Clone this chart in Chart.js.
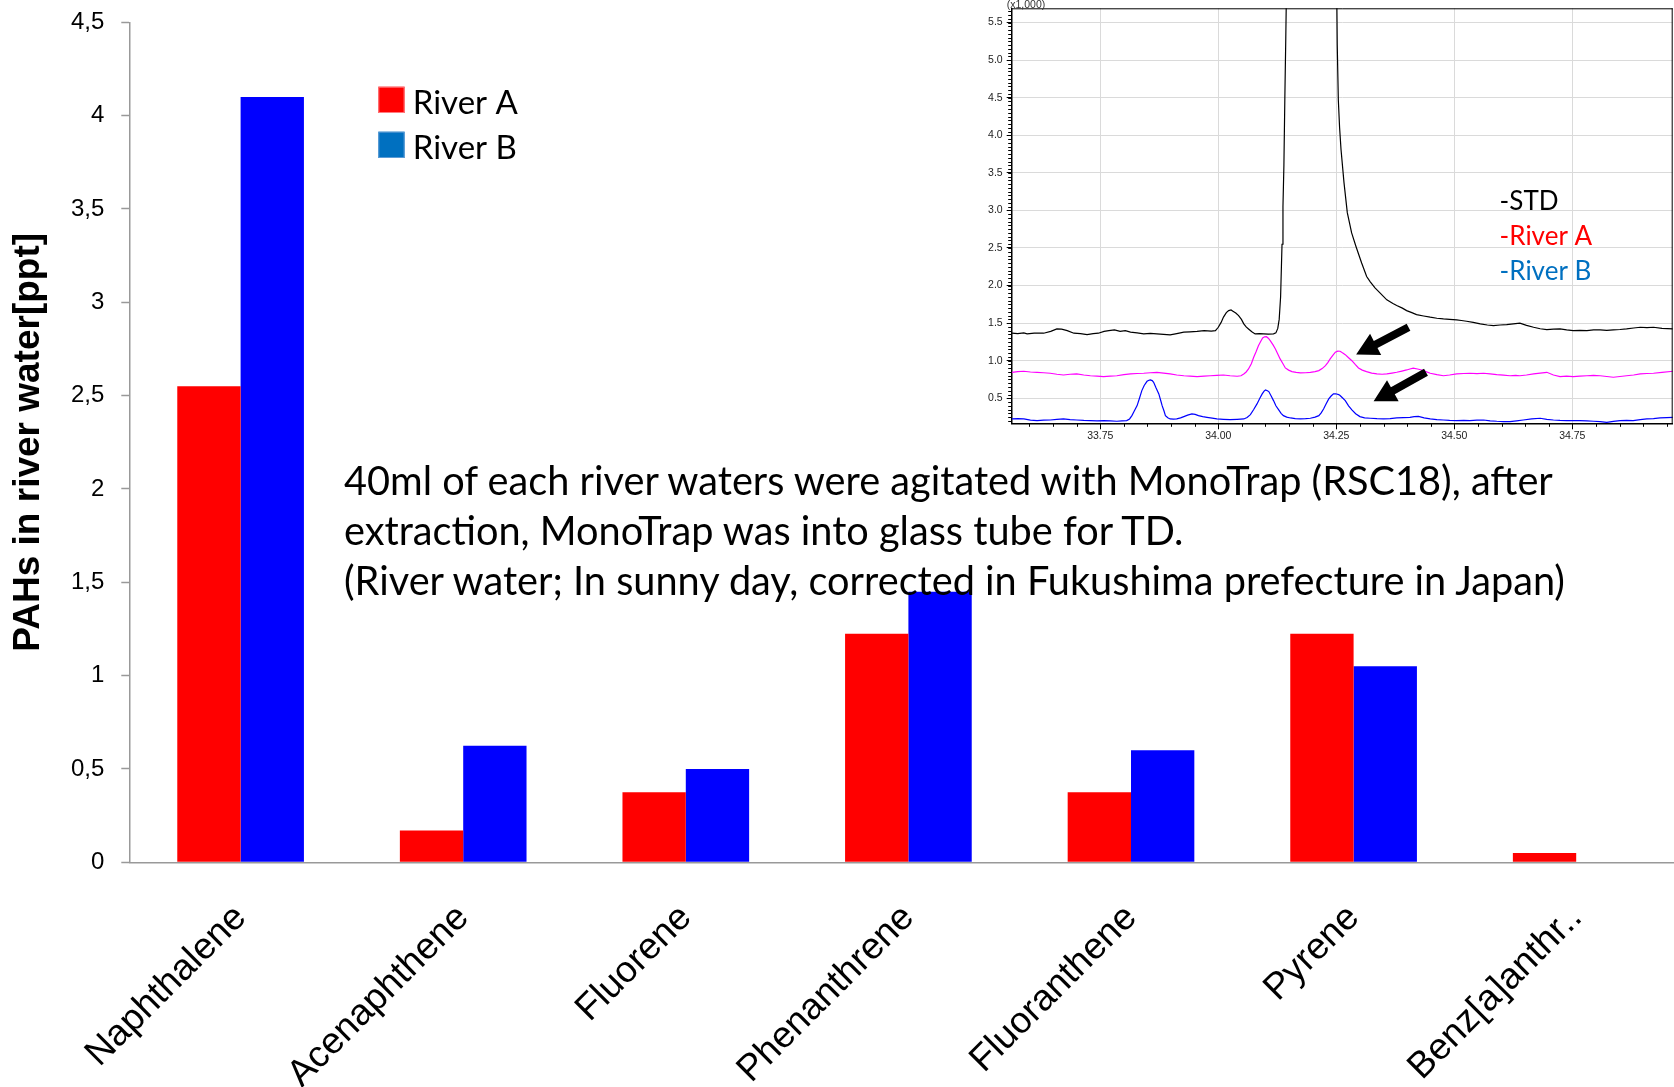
<!DOCTYPE html>
<html>
<head>
<meta charset="utf-8">
<title>PAHs in river water</title>
<script src="https://cdn.jsdelivr.net/npm/chart.js@4.4.1/dist/chart.umd.min.js"></script>
<style>
  html, body { margin: 0; padding: 0; background: #fff; overflow: hidden; width: 1674px; height: 1087px; }
  #main { position: absolute; left: 0; top: 0; }
  #inset { position: absolute; left: 970px; top: 0; }
  #note {
    position: absolute; left: 344px; top: 455px;
    font-family: Lato, "Open Sans", sans-serif; font-size: 39.7px; line-height: 50px;
    color: #000; white-space: nowrap;
  }
</style>
</head>
<body>
<canvas id="main" width="1690" height="1087"></canvas>
<div id="note">
  <div>40ml of each river waters were agitated with MonoTrap (RSC18), after</div>
  <div>extraction, MonoTrap was into glass tube for TD.</div>
  <div>(River water; In sunny day, corrected in Fukushima prefecture in Japan)</div>
</div>
<canvas id="inset" width="704" height="440"></canvas>
<script>
// ---- Bar chart: PAH concentrations per compound ----
const compounds = ['Naphthalene', 'Acenaphthene', 'Fluorene', 'Phenanthrene', 'Fluoranthene', 'Pyrene', 'Benz[a]anthr..'];
const seriesNames = ['River A', 'River B'];
const riverA = [2.55, 0.17, 0.375, 1.225, 0.375, 1.225, 0.05];
const riverB = [4.10, 0.625, 0.50, 1.45, 0.60, 1.05, null];

// ---- Chromatogram inset (intensity x1,000 vs retention time, min) ----
const insetTimeTicks = [33.75, 34.00, 34.25, 34.50, 34.75];
const insetIntensityTicks = [0.5, 1.0, 1.5, 2.0, 2.5, 3.0, 3.5, 4.0, 4.5, 5.0, 5.5];
const traceNames = ['-STD', '-River A', '-River B'];

const stdTime = [33.563,33.575,33.588,33.595,33.61,33.63,33.645,33.658,33.668,33.68,33.694,33.708,33.722,33.735,33.746,33.758,33.768,33.78,33.792,33.803,33.814,33.828,33.842,33.856,33.87,33.884,33.898,33.912,33.927,33.94,33.955,33.97,33.985,33.994,34.0,34.006,34.011,34.017,34.022,34.027,34.031,34.037,34.043,34.049,34.054,34.059,34.064,34.071,34.078,34.087,34.096,34.106,34.117,34.122,34.126,34.129,34.132,34.135,34.137,34.139,34.141,34.143,34.145,34.196,34.2505,34.252,34.2543,34.257,34.26,34.2663,34.2733,34.2825,34.2917,34.3037,34.3143,34.322,34.332,34.343,34.357,34.37,34.378,34.39,34.399,34.41,34.42,34.435,34.449,34.463,34.477,34.49,34.505,34.515,34.526,34.54,34.555,34.57,34.583,34.597,34.611,34.625,34.639,34.653,34.668,34.682,34.696,34.71,34.724,34.738,34.752,34.766,34.781,34.795,34.809,34.823,34.837,34.851,34.865,34.88,34.894,34.908,34.922,34.94,34.964];
const stdSignal = [1.366,1.36,1.37,1.357,1.368,1.366,1.39,1.423,1.42,1.40,1.366,1.36,1.348,1.36,1.366,1.39,1.40,1.41,1.39,1.40,1.38,1.37,1.357,1.365,1.357,1.35,1.343,1.36,1.38,1.385,1.39,1.40,1.395,1.40,1.445,1.51,1.58,1.64,1.667,1.675,1.659,1.635,1.60,1.55,1.49,1.45,1.423,1.385,1.357,1.36,1.357,1.355,1.357,1.37,1.43,1.55,1.85,2.55,3.05,3.6,4.5,5.3,6.2,14.0,6.2,5.2,4.47,4.1,3.81,3.37,2.97,2.70,2.52,2.30,2.12,2.05,1.97,1.90,1.81,1.76,1.734,1.70,1.667,1.64,1.614,1.595,1.579,1.565,1.556,1.55,1.543,1.535,1.525,1.51,1.49,1.475,1.468,1.475,1.48,1.49,1.50,1.47,1.445,1.425,1.414,1.42,1.423,1.41,1.40,1.405,1.40,1.41,1.41,1.405,1.41,1.415,1.423,1.435,1.445,1.44,1.445,1.43,1.423];

const riverATime = [33.563,33.575,33.588,33.602,33.616,33.63,33.644,33.658,33.672,33.686,33.70,33.715,33.729,33.743,33.757,33.771,33.785,33.8,33.814,33.828,33.842,33.856,33.87,33.884,33.898,33.912,33.927,33.94,33.955,33.97,33.983,33.997,34.011,34.025,34.04,34.048,34.054,34.059,34.064,34.07,34.075,34.08,34.085,34.09,34.094,34.098,34.102,34.106,34.11,34.116,34.121,34.126,34.131,34.137,34.142,34.149,34.156,34.165,34.174,34.185,34.195,34.205,34.213,34.22,34.227,34.232,34.237,34.243,34.248,34.253,34.258,34.263,34.269,34.276,34.283,34.29,34.297,34.305,34.314,34.325,34.336,34.347,34.357,34.368,34.378,34.389,34.399,34.406,34.413,34.422,34.431,34.44,34.449,34.463,34.477,34.49,34.505,34.52,34.533,34.548,34.562,34.576,34.59,34.604,34.618,34.63,34.639,34.653,34.668,34.682,34.696,34.71,34.724,34.738,34.752,34.766,34.781,34.795,34.809,34.823,34.837,34.851,34.865,34.88,34.894,34.908,34.922,34.94,34.964];
const riverASignal = [0.846,0.855,0.86,0.85,0.846,0.84,0.833,0.82,0.81,0.82,0.824,0.81,0.80,0.795,0.788,0.795,0.80,0.815,0.824,0.83,0.833,0.84,0.846,0.835,0.824,0.81,0.80,0.795,0.788,0.795,0.80,0.805,0.81,0.80,0.793,0.80,0.824,0.85,0.89,0.96,1.046,1.12,1.20,1.26,1.303,1.318,1.32,1.30,1.268,1.21,1.157,1.09,1.024,0.96,0.904,0.875,0.855,0.845,0.837,0.84,0.846,0.855,0.868,0.895,0.935,0.975,1.024,1.075,1.113,1.128,1.126,1.105,1.081,1.04,1.0,0.95,0.904,0.875,0.855,0.835,0.824,0.82,0.824,0.835,0.846,0.862,0.877,0.89,0.90,0.89,0.877,0.855,0.833,0.815,0.80,0.81,0.824,0.83,0.833,0.828,0.833,0.825,0.815,0.808,0.80,0.805,0.80,0.81,0.824,0.835,0.846,0.81,0.788,0.795,0.788,0.795,0.80,0.805,0.80,0.79,0.78,0.79,0.80,0.81,0.824,0.83,0.833,0.845,0.86];

const riverBTime = [33.563,33.575,33.588,33.602,33.616,33.63,33.644,33.658,33.672,33.686,33.70,33.715,33.729,33.743,33.757,33.771,33.785,33.796,33.806,33.812,33.817,33.822,33.828,33.833,33.838,33.843,33.849,33.853,33.856,33.86,33.863,33.868,33.874,33.878,33.881,33.885,33.888,33.893,33.898,33.905,33.912,33.92,33.927,33.935,33.944,33.951,33.958,33.967,33.976,33.987,33.997,34.011,34.025,34.04,34.054,34.061,34.068,34.075,34.082,34.088,34.093,34.097,34.1,34.104,34.107,34.112,34.117,34.122,34.128,34.133,34.138,34.145,34.153,34.163,34.174,34.185,34.195,34.205,34.213,34.218,34.223,34.228,34.234,34.239,34.244,34.249,34.255,34.258,34.264,34.269,34.276,34.283,34.291,34.30,34.31,34.322,34.336,34.35,34.364,34.378,34.392,34.406,34.415,34.424,34.436,34.449,34.463,34.477,34.49,34.505,34.52,34.533,34.548,34.562,34.576,34.59,34.604,34.618,34.632,34.646,34.664,34.682,34.696,34.71,34.724,34.738,34.752,34.766,34.781,34.795,34.809,34.823,34.837,34.851,34.865,34.879,34.894,34.908,34.922,34.936,34.95,34.964];
const riverBSignal = [0.225,0.23,0.225,0.21,0.203,0.208,0.211,0.218,0.225,0.215,0.211,0.205,0.203,0.20,0.203,0.198,0.194,0.20,0.203,0.225,0.269,0.33,0.402,0.50,0.602,0.67,0.726,0.74,0.744,0.735,0.713,0.64,0.558,0.47,0.402,0.33,0.269,0.24,0.225,0.222,0.225,0.24,0.256,0.275,0.291,0.285,0.269,0.255,0.247,0.235,0.225,0.22,0.216,0.22,0.225,0.245,0.283,0.35,0.425,0.50,0.558,0.595,0.611,0.60,0.589,0.53,0.469,0.40,0.345,0.30,0.269,0.25,0.238,0.23,0.225,0.228,0.234,0.25,0.269,0.305,0.358,0.42,0.491,0.53,0.558,0.56,0.549,0.536,0.50,0.469,0.40,0.345,0.295,0.256,0.24,0.234,0.228,0.225,0.23,0.238,0.242,0.247,0.255,0.26,0.24,0.225,0.215,0.211,0.205,0.203,0.205,0.203,0.208,0.211,0.20,0.194,0.19,0.189,0.20,0.211,0.225,0.234,0.22,0.211,0.205,0.203,0.203,0.203,0.198,0.194,0.188,0.18,0.192,0.203,0.205,0.203,0.215,0.225,0.23,0.238,0.242,0.247];

// Peak markers: arrow tail and tip in (time, intensity)
const arrowTails = [[34.403, 1.445], [34.440, 0.846]];
const arrowTips = [[34.292, 1.081], [34.329, 0.460]];

const pairs = (xs, ys) => xs.map((x, i) => ({ x: x, y: ys[i] }));

// Legend drawn as colour squares with series names
const swatchLegend = {
  id: 'swatchLegend',
  afterDraw(chart, args, o) {
    const ctx = chart.ctx;
    ctx.save();
    ctx.font = o.font;
    ctx.textBaseline = 'alphabetic';
    ctx.textAlign = 'left';
    chart.data.datasets.forEach((ds, i) => {
      const top = o.top + i * o.rowGap;
      ctx.fillStyle = o.swatches[i];
      ctx.fillRect(o.left, top, o.box, o.box);
      ctx.strokeStyle = o.edges[i];
      ctx.lineWidth = 1;
      ctx.strokeRect(o.left + 0.5, top + 0.5, o.box - 1, o.box - 1);
      ctx.fillStyle = '#000';
      ctx.fillText(ds.label, o.textLeft, top + o.baseline);
    });
    ctx.restore();
  }
};

// Inset helpers: white background, frame, minor ticks, arrows, labels
const insetDecor = {
  id: 'insetDecor',
  beforeDraw(chart) {
    const ctx = chart.ctx;
    ctx.save();
    ctx.fillStyle = '#fff';
    ctx.fillRect(0, 0, chart.width, chart.height);
    ctx.restore();
  },
  afterDatasetsDraw(chart, args, o) {
    const ctx = chart.ctx;
    const xs = chart.scales.x, ys = chart.scales.y;
    ctx.save();
    ctx.fillStyle = '#000';
    arrowTails.forEach((tail, i) => {
      const tip = arrowTips[i];
      const x0 = xs.getPixelForValue(tail[0]), y0 = ys.getPixelForValue(tail[1]);
      const x1 = xs.getPixelForValue(tip[0]), y1 = ys.getPixelForValue(tip[1]);
      const len = Math.hypot(x1 - x0, y1 - y0);
      const ux = (x1 - x0) / len, uy = (y1 - y0) / len;
      const nx = -uy, ny = ux;
      const hl = o.headLength, hw = o.headWidth / 2, sw = o.shaftWidth / 2;
      const bx = x1 - ux * hl, by = y1 - uy * hl;
      ctx.beginPath();
      ctx.moveTo(x0 + nx * sw, y0 + ny * sw);
      ctx.lineTo(bx + nx * sw, by + ny * sw);
      ctx.lineTo(bx + nx * hw, by + ny * hw);
      ctx.lineTo(x1, y1);
      ctx.lineTo(bx - nx * hw, by - ny * hw);
      ctx.lineTo(bx - nx * sw, by - ny * sw);
      ctx.lineTo(x0 - nx * sw, y0 - ny * sw);
      ctx.closePath();
      ctx.fill();
    });
    // trace names
    ctx.font = o.labelFont;
    ctx.textAlign = 'left';
    ctx.textBaseline = 'alphabetic';
    traceNames.forEach((name, i) => {
      ctx.fillStyle = o.labelColors[i];
      ctx.fillText(name, xs.getPixelForValue(o.labelTime), ys.getPixelForValue(o.labelBaselines[i]));
    });
    ctx.restore();
  },
  afterDraw(chart, args, o) {
    const ctx = chart.ctx;
    const a = chart.chartArea;
    const xs = chart.scales.x, ys = chart.scales.y;
    ctx.save();
    ctx.strokeStyle = '#000';
    ctx.lineWidth = 1;
    ctx.beginPath();
    ctx.moveTo(a.left, a.top + 0.5); ctx.lineTo(a.right, a.top + 0.5);
    ctx.moveTo(a.right - 0.5, a.top); ctx.lineTo(a.right - 0.5, a.bottom);
    ctx.stroke();
    // minor tick marks every 0.05
    ctx.beginPath();
    for (let k = Math.ceil(xs.min / 0.05); k * 0.05 <= xs.max; k++) {
      const px = Math.round(xs.getPixelForValue(k * 0.05)) + 0.5;
      ctx.moveTo(px, a.bottom); ctx.lineTo(px, a.bottom + o.minorLength);
    }
    for (let k = Math.ceil(ys.min / 0.05); k * 0.05 <= ys.max; k++) {
      const py = Math.round(ys.getPixelForValue(k * 0.05)) + 0.5;
      ctx.moveTo(a.left, py); ctx.lineTo(a.left - o.minorLength, py);
    }
    ctx.stroke();
    // intensity unit
    ctx.font = o.tickFont;
    ctx.fillStyle = '#333';
    ctx.textAlign = 'left';
    ctx.textBaseline = 'alphabetic';
    ctx.fillText('(x1,000)', a.left - 5, 7.5);
    ctx.restore();
  }
};

function build() {
  new Chart(document.getElementById('main'), {
    type: 'bar',
    data: {
      labels: compounds,
      datasets: [
        { label: seriesNames[0], data: riverA, backgroundColor: '#FF0000', borderWidth: 0, categoryPercentage: 0.569, barPercentage: 1.0 },
        { label: seriesNames[1], data: riverB, backgroundColor: '#0000FF', borderWidth: 0, categoryPercentage: 0.569, barPercentage: 1.0 }
      ]
    },
    plugins: [swatchLegend],
    options: {
      responsive: false,
      animation: false,
      devicePixelRatio: 1,
      layout: { padding: { top: 22.3, right: 2.5, left: 0, bottom: 0 } },
      plugins: {
        legend: { display: false },
        tooltip: { enabled: false },
        swatchLegend: {
          left: 378.3, top: 86.7, rowGap: 45, box: 26.3,
          textLeft: 412.7, baseline: 27.6, font: '33px Lato',
          swatches: ['#FF0000', '#0070C0'], edges: ['#FF7C80', '#5B9BD5']
        }
      },
      scales: {
        x: {
          grid: { display: true, drawOnChartArea: false, drawTicks: false },
          border: { display: true, color: '#999', width: 1.5 },
          ticks: {
            font: { family: 'Liberation Sans', size: 37 }, color: '#000',
            minRotation: 45, maxRotation: 45, autoSkip: false, padding: 34
          },
          afterFit: (s) => { s.height = 1087 - 862.3; s.paddingTop = 0; s.paddingBottom = 0; }
        },
        y: {
          min: 0, max: 4.5,
          ticks: {
            stepSize: 0.5, font: { family: 'Liberation Sans', size: 24 }, color: '#000', padding: 17,
            callback: (v) => String(v).replace('.', ',')
          },
          grid: { drawOnChartArea: false, tickLength: 8, color: '#999', tickWidth: 1.5 },
          border: { color: '#999', width: 1.5 },
          title: {
            display: true, text: 'PAHs in river water[ppt]', color: '#000',
            font: { family: 'Liberation Sans', size: 37, weight: 'bold' },
            padding: { top: 6.5, bottom: 0 }
          },
          afterFit: (s) => { s.width = 129.3; s.paddingTop = 0; s.paddingBottom = 0; }
        }
      }
    }
  });

  new Chart(document.getElementById('inset'), {
    type: 'line',
    data: {
      datasets: [
        { label: traceNames[0], data: pairs(stdTime, stdSignal), borderColor: '#000000' },
        { label: traceNames[1], data: pairs(riverATime, riverASignal), borderColor: '#FF00FF' },
        { label: traceNames[2], data: pairs(riverBTime, riverBSignal), borderColor: '#0000FF' }
      ]
    },
    plugins: [insetDecor],
    options: {
      responsive: false,
      animation: false,
      devicePixelRatio: 1,
      parsing: false,
      layout: { padding: { top: 8.3, right: 1.3, left: 0, bottom: 0 } },
      elements: { point: { radius: 0 }, line: { borderWidth: 1.2, tension: 0 } },
      plugins: {
        legend: { display: false },
        tooltip: { enabled: false },
        insetDecor: {
          headLength: 22, headWidth: 24, shaftWidth: 8, minorLength: 3.5,
          labelFont: '26px Lato', labelTime: 34.596, labelBaselines: [3.007, 2.54, 2.075],
          labelColors: ['#000000', '#FF0000', '#0070C0'],
          tickFont: '10.5px "Liberation Sans"'
        }
      },
      scales: {
        x: {
          type: 'linear', min: 33.5623, max: 34.9627,
          afterBuildTicks: (s) => { s.ticks = insetTimeTicks.map((v) => ({ value: v })); },
          afterFit: (s) => { s.height = 16.7; s.paddingTop = 0; s.paddingBottom = 0; },
          grid: { color: '#dadada', tickColor: '#000', tickLength: 6, lineWidth: 1 },
          border: { color: '#000', width: 1.5 },
          ticks: {
            font: { family: 'Liberation Sans', size: 10.5 }, color: '#222', padding: 1,
            maxRotation: 0, autoSkip: false, callback: (v) => Number(v).toFixed(2)
          }
        },
        y: {
          min: 0.167, max: 5.69,
          afterBuildTicks: (s) => { s.ticks = insetIntensityTicks.map((v) => ({ value: v })); },
          afterFit: (s) => { s.width = 41.7; s.paddingTop = 0; s.paddingBottom = 0; },
          grid: { color: '#dadada', tickColor: '#000', tickLength: 5, lineWidth: 1 },
          border: { color: '#000', width: 1.5 },
          ticks: {
            font: { family: 'Liberation Sans', size: 10.5 }, color: '#222', padding: 4,
            autoSkip: false, callback: (v) => Number(v).toFixed(1)
          }
        }
      }
    }
  });
}

Promise.all([
  document.fonts.load('33px Lato'),
  document.fonts.load('24px "Liberation Sans"'),
  document.fonts.load('bold 36px "Liberation Sans"')
]).then(build, build);
</script>
</body>
</html>
